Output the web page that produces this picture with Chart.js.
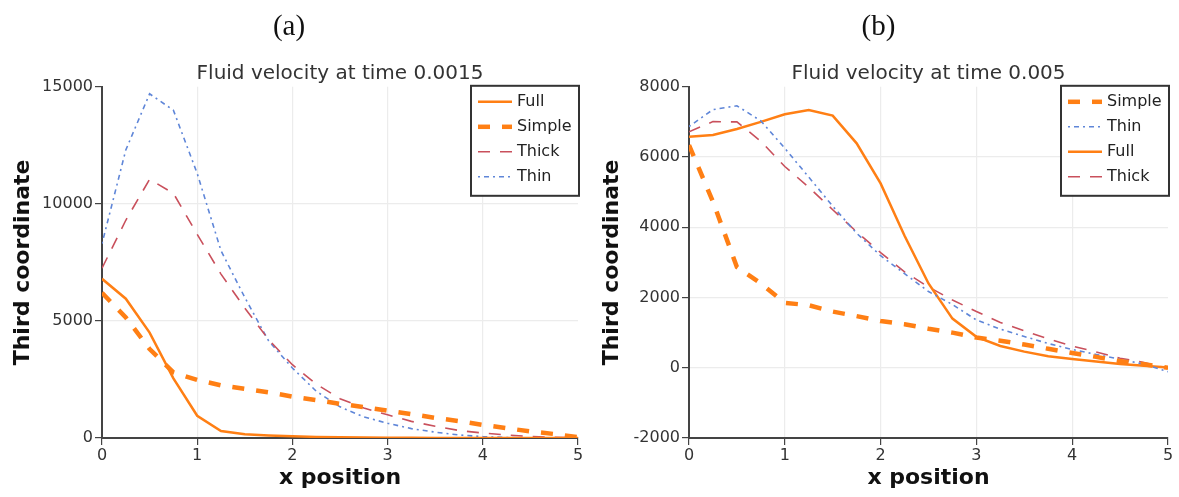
<!DOCTYPE html>
<html>
<head>
<meta charset="utf-8">
<script src="https://cdn.jsdelivr.net/npm/chart.js@4.4.1/dist/chart.umd.min.js"></script>
<style>
  html, body { margin: 0; padding: 0; background: #fff; }
  #wrap { position: relative; width: 1179px; height: 497px; }
  #chartA { position: absolute; left: 0; top: 0; }
  #chartB { position: absolute; left: 589px; top: 0; }
</style>
</head>
<body>
<div id="wrap">
  <canvas id="chartA" width="590" height="497"></canvas>
  <canvas id="chartB" width="590" height="497"></canvas>
</div>
<script>
// x positions shared by every curve
const xPos = [0, 0.25, 0.5, 0.75, 1, 1.25, 1.5, 1.75, 2, 2.25, 2.5, 2.75, 3, 3.25, 3.5, 3.75, 4, 4.25, 4.5, 4.75, 5];

// (a) time 0.0015
const fullA   = [6800, 5950, 4500, 2550, 950, 300, 160, 110, 80, 45, 30, 20, 15, 10, 5, 5, 0, 0, 0, 0, 0];
const simpleA = [6200, 5150, 3800, 2800, 2480, 2250, 2100, 1950, 1770, 1620, 1460, 1320, 1170, 1020, 860, 720, 560, 420, 280, 170, 40];
const thickA  = [7250, 9300, 11050, 10450, 8700, 7000, 5550, 4200, 3130, 2300, 1680, 1280, 990, 710, 500, 320, 210, 130, 60, 30, 10];
const thinA   = [8300, 12300, 14700, 14000, 11300, 8000, 6000, 4150, 2990, 2000, 1330, 900, 630, 400, 250, 130, 60, 20, 5, 0, 0];

// (b) time 0.005
const simpleB = [6340, 4730, 2870, 2400, 1850, 1780, 1600, 1470, 1330, 1240, 1110, 1000, 860, 770, 660, 540, 420, 310, 190, 100, 0];
const thinB   = [6870, 7350, 7460, 7030, 6250, 5430, 4600, 3830, 3190, 2680, 2170, 1800, 1360, 1100, 890, 690, 520, 380, 240, 100, -110];
const fullB   = [6580, 6630, 6800, 7000, 7220, 7340, 7180, 6390, 5250, 3760, 2400, 1400, 880, 620, 460, 330, 250, 180, 110, 60, 10];
const thickB  = [6720, 7010, 7000, 6450, 5730, 5140, 4500, 3870, 3280, 2730, 2300, 1930, 1600, 1290, 1050, 820, 620, 450, 270, 150, -20];

const xTicks = [0, 1, 2, 3, 4, 5];

const ORANGE = '#ff7f14';
const RED = '#c9505c';
const BLUE = '#5f86d8';

const styles = {
  Full:   { borderColor: ORANGE, borderWidth: 2.5, borderDash: [] },
  Simple: { borderColor: ORANGE, borderWidth: 4.5, borderDash: [12, 12] },
  Thick:  { borderColor: RED, borderWidth: 1.6, borderDash: [12, 10] },
  Thin:   { borderColor: BLUE, borderWidth: 1.6, borderDash: [2, 4, 5, 4] }
};

function series(label, ys) {
  return Object.assign({
    label: label,
    data: ys.map((y, i) => ({ x: xPos[i], y: y })),
    pointRadius: 0,
    tension: 0,
    fill: false,
    borderCapStyle: 'butt'
  }, styles[label]);
}

// boxed legend inside the plot, top right
const boxLegend = {
  id: 'boxLegend',
  afterDraw(chart) {
    const ctx = chart.ctx;
    const area = chart.chartArea;
    const w = 108, h = 110;
    const left = area.right - w + 1, top = area.top - 1;
    ctx.save();
    ctx.fillStyle = '#fff';
    ctx.fillRect(left, top, w, h);
    ctx.strokeStyle = '#333';
    ctx.lineWidth = 2;
    ctx.setLineDash([]);
    ctx.strokeRect(left, top, w, h);
    ctx.font = '16px "DejaVu Sans"';
    ctx.textBaseline = 'middle';
    chart.data.datasets.forEach((ds, i) => {
      const y = top + 16 + i * 25;
      ctx.beginPath();
      ctx.strokeStyle = ds.borderColor;
      ctx.lineWidth = ds.borderWidth;
      ctx.setLineDash(ds.borderDash);
      ctx.moveTo(left + 7, y);
      ctx.lineTo(left + 41, y);
      ctx.stroke();
      ctx.setLineDash([]);
      ctx.fillStyle = '#222';
      ctx.fillText(ds.label, left + 46, y);
    });
    ctx.restore();
  }
};

function makeChart(id, panel, title, datasets, yMin, yMax, yStep, yWidth, padRight) {
  const gridColor = (c) => (c.tick && (c.tick.value === c.scale.max)) ? 'rgba(0,0,0,0)' : '#ececec';
  return new Chart(document.getElementById(id), {
    type: 'line',
    data: { datasets: datasets },
    options: {
      responsive: false,
      animation: false,
      devicePixelRatio: 1,
      layout: { padding: { left: 0, right: padRight, top: 0, bottom: 0 } },
      scales: {
        x: {
          type: 'linear',
          min: 0, max: 5,
          afterBuildTicks: (s) => { s.ticks = xTicks.map(v => ({ value: v })); },
          afterFit: (s) => { s.height = 59; },
          grid: { color: gridColor, tickColor: '#444', tickLength: 7, lineWidth: 1.2 },
          border: { color: '#444', width: 2 },
          ticks: { color: '#333', font: { family: 'DejaVu Sans', size: 16 }, padding: 1, maxRotation: 0,
                   callback: (v) => String(v) },
          title: { display: true, text: 'x position', color: '#111',
                   font: { family: 'DejaVu Sans', size: 22, weight: 'bold' }, padding: { top: 0, bottom: 6 } }
        },
        y: {
          min: yMin, max: yMax,
          ticks: { stepSize: yStep, color: '#333', font: { family: 'DejaVu Sans', size: 16 }, padding: 2,
                   callback: (v) => String(v) },
          afterFit: (s) => { s.width = yWidth; },
          grid: { color: gridColor, tickColor: '#444', tickLength: 7, lineWidth: 1.2 },
          border: { color: '#444', width: 2 },
          title: { display: true, text: 'Third coordinate', color: '#111',
                   font: { family: 'DejaVu Sans', size: 22, weight: 'bold' }, padding: { top: 10, bottom: 0 } }
        }
      },
      plugins: {
        legend: { display: false },
        tooltip: { enabled: false },
        title: {
          display: true, text: panel, color: '#111',
          font: { family: 'Liberation Serif', size: 29, weight: 'normal' },
          padding: { top: 10, bottom: 0 }
        },
        subtitle: {
          display: true, text: title, color: '#333', fullSize: false,
          font: { family: 'DejaVu Sans', size: 20, weight: 'normal' },
          padding: { top: 17, bottom: 1 }
        }
      }
    },
    plugins: [boxLegend]
  });
}

makeChart('chartA', '(a)', 'Fluid velocity at time 0.0015',
  [series('Full', fullA), series('Simple', simpleA), series('Thick', thickA), series('Thin', thinA)],
  0, 15000, 5000, 102, 12);

makeChart('chartB', '(b)', 'Fluid velocity at time 0.005',
  [series('Simple', simpleB), series('Thin', thinB), series('Full', fullB), series('Thick', thickB)],
  -2000, 8000, 2000, 100, 11);
</script>
</body>
</html>
